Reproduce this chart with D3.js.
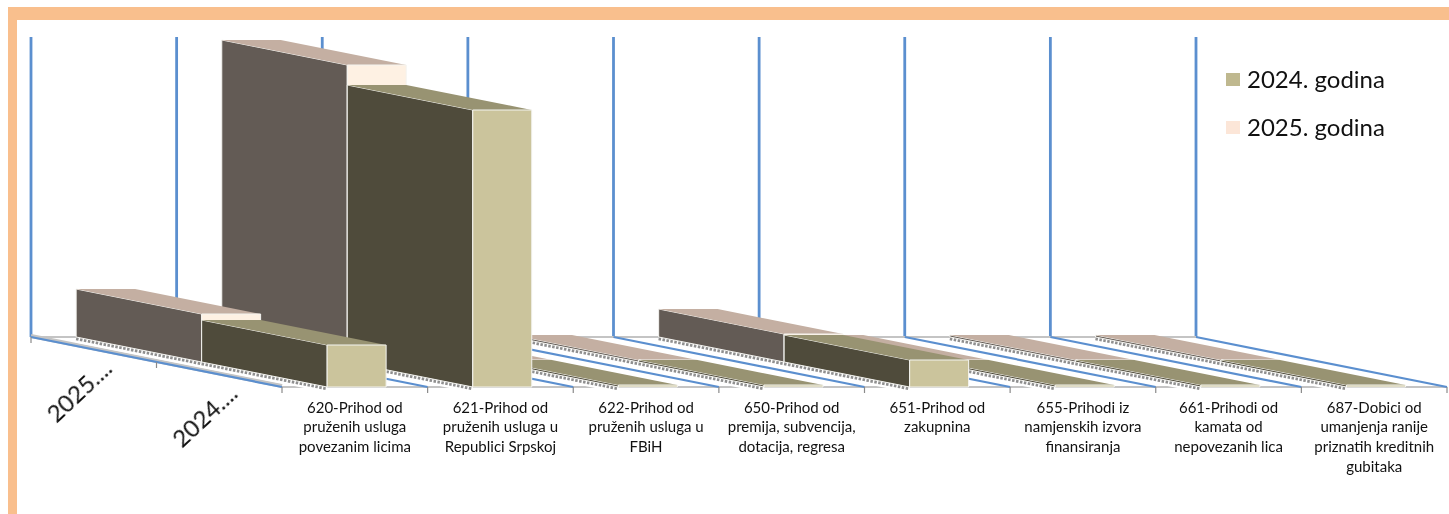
<!DOCTYPE html>
<html>
<head>
<meta charset="utf-8">
<script src="https://cdn.jsdelivr.net/npm/d3@7"></script>
<style>
	html, body { margin: 0; padding: 0; background: #fff; overflow: hidden; }
	text { font-family: Lato, "Open Sans", sans-serif; fill: #111; filter: blur(0.3px); }
</style>
</head>
<body>
<svg id="chart" width="1449" height="514"></svg>
<script>
const categories = [
	"620-Prihod od\npruženih usluga\npovezanim licima",
	"621-Prihod od\npruženih usluga u\nRepublici Srpskoj",
	"622-Prihod od\npruženih usluga u\nFBiH",
	"650-Prihod od\npremija, subvencija,\ndotacija, regresa",
	"651-Prihod od\nzakupnina",
	"655-Prihodi iz\nnamjenskih izvora\nfinansiranja",
	"661-Prihodi od\nkamata od\nnepovezanih lica",
	"687-Dobici od\numanjenja ranije\npriznatih kreditnih\ngubitaka"
]
const seriesNames = ["2025. godina", "2024. godina"]
const depthLabels = ["2025....", "2024...."]
const values2025 = [480, 2970, 20, 20, 280, 20, 20, 20]
const values2024 = [420, 2770, 20, 20, 270, 20, 20, 20]
const legendNames = ["2024. godina", "2025. godina"]

const seriesColors = {
	"2024. godina": { front: "#cbc49c", top: "#989372", side: "#4f4b3b", key: "#bfb88f" },
	"2025. godina": { front: "#fef1e3", top: "#c4afa2", side: "#635b55", key: "#fce6d8" }
}

const svg = d3.select("#chart")

// frame of the slide, only top and left
svg.append("rect").attr("x", 8).attr("y", 7).attr("width", 1441).attr("height", 13).attr("fill", "#f9bf8d")
svg.append("rect").attr("x", 8).attr("y", 7).attr("width", 9).attr("height", 507).attr("fill", "#f9bf8d")

// scales, back wall of the chart
const x = d3.scaleBand().domain(categories).range([31, 1196])
const y = d3.scaleLinear().domain([0, 3000]).range([337, 37])
const depth = d3.scaleBand().domain(seriesNames).range([0, 1])
const barSlot = d3.scaleLinear().domain([0, 1]).range([0.31, 0.715])

// oblique projection, z goes from back (0) to front (1)
const depthDx = 251
const depthDy = 50
function px(xWall, z){ return xWall + depthDx * z }
function py(v, z){ return y(v) + depthDy * z }

const marks = svg.append("g").style("filter", "blur(0.5px)")

const edges = x.domain().map(d => x(d)).concat([x.range()[1]])

// wall lines
marks.selectAll(".wall").data(edges).join("line")
	.attr("class", "wall")
	.attr("x1", d => d).attr("x2", d => d)
	.attr("y1", y.range()[1]).attr("y2", y(0))
	.attr("stroke", "#5b8fcf").attr("stroke-width", 2.8)

// floor edges
marks.append("line")
	.attr("x1", edges[0]).attr("x2", edges[8])
	.attr("y1", y(0)).attr("y2", y(0))
	.attr("stroke", "#c4c4c4").attr("stroke-width", 2)
marks.append("line")
	.attr("x1", px(edges[0], 1)).attr("x2", px(edges[8], 1))
	.attr("y1", py(0, 1)).attr("y2", py(0, 1))
	.attr("stroke", "#c4c4c4").attr("stroke-width", 2)
marks.append("line")
	.attr("x1", edges[0]).attr("x2", px(edges[0], 1))
	.attr("y1", y(0) - 1).attr("y2", py(0, 1) - 1)
	.attr("stroke", "#c4c4c4").attr("stroke-width", 4)

// floor lines
marks.selectAll(".floor").data(edges).join("line")
	.attr("class", "floor")
	.attr("x1", d => d).attr("x2", d => px(d, 1))
	.attr("y1", y(0)).attr("y2", py(0, 1))
	.attr("stroke", "#5b8fcf").attr("stroke-width", 2.2)

// ticks along the front and the side
marks.selectAll(".tick-front").data(edges).join("line")
	.attr("class", "tick-front")
	.attr("x1", d => px(d, 1)).attr("x2", d => px(d, 1))
	.attr("y1", py(0, 1)).attr("y2", py(0, 1) + 6)
	.attr("stroke", "#8a8a8a").attr("stroke-width", 1.2)
marks.selectAll(".tick-side").data([0, 0.5]).join("line")
	.attr("class", "tick-side")
	.attr("x1", d => px(edges[0], d)).attr("x2", d => px(edges[0], d))
	.attr("y1", d => py(0, d)).attr("y2", d => py(0, d) + 6)
	.attr("stroke", "#8a8a8a").attr("stroke-width", 1.2)

// one 3d bar: hatch on the floor, then side, top and front
function drawBar(parent, cat, name, value){
	const color = seriesColors[name]
	const z0 = depth(name)
	const z1 = z0 + depth.bandwidth()
	const x0 = x(cat) + barSlot(0) * x.bandwidth()
	const x1 = x(cat) + barSlot(1) * x.bandwidth()
	const g = parent.append("g")

	const poly = pts => pts.map(p => p.join(",")).join(" ")

	// white halo and grey hatch along the foot of the bar
	g.append("line")
		.attr("x1", px(x0, z0)).attr("y1", py(0, z0) + 1.5)
		.attr("x2", px(x0, z1)).attr("y2", py(0, z1) + 1.5)
		.attr("stroke", "#fff").attr("stroke-width", 8)
	g.append("line")
		.attr("x1", px(x0, z0)).attr("y1", py(0, z0) + 1.5)
		.attr("x2", px(x0, z1)).attr("y2", py(0, z1) + 1.5)
		.attr("stroke", "#8f8f8f").attr("stroke-width", 3.5).attr("stroke-dasharray", "2.5 1.5")

	g.append("polygon")
		.attr("points", poly([[px(x0, z0), py(0, z0)], [px(x0, z1), py(0, z1)], [px(x0, z1), py(value, z1)], [px(x0, z0), py(value, z0)]]))
		.attr("fill", color.side).attr("stroke", "#f4f4f0").attr("stroke-width", 1)
	g.append("polygon")
		.attr("points", poly([[px(x0, z0), py(value, z0)], [px(x0, z1), py(value, z1)], [px(x1, z1), py(value, z1)], [px(x1, z0), py(value, z0)]]))
		.attr("fill", color.top)
	g.append("polygon")
		.attr("points", poly([[px(x0, z1), py(0, z1)], [px(x1, z1), py(0, z1)], [px(x1, z1), py(value, z1)], [px(x0, z1), py(value, z1)]]))
		.attr("fill", color.front).attr("stroke", "#f4f4f0").attr("stroke-width", 1)
}

// left categories sit in front of the right ones, so draw from the right
const barLayer = marks.append("g")
d3.range(categories.length - 1, -1, -1).forEach(function (i){
	drawBar(barLayer, categories[i], "2025. godina", values2025[i])
	drawBar(barLayer, categories[i], "2024. godina", values2024[i])
})

// category labels on the front edge
const frontX = d3.scaleBand().domain(categories).range([px(31, 1), px(1196, 1)])
const catAxis = svg.append("g")
	.attr("class", "cat-label")
	.attr("transform", "translate(0," + py(0, 1) + ")")
	.call(d3.axisBottom(frontX).tickSize(0).tickPadding(0))
catAxis.select(".domain").remove()
catAxis.selectAll("text").each(function (d){
	const label = d3.select(this).text("").attr("y", 25).attr("dy", 0).style("font-size", "15px")
	d.split("\n").forEach(function (line, i){
		label.append("tspan").attr("x", 0).attr("y", 25.5 + i * 19.8).text(line)
	})
})

// series labels on the side edge
svg.selectAll(".depth-label").data(depthLabels).join("text")
	.attr("class", "depth-label")
	.attr("text-anchor", "end")
	.attr("font-size", 24)
	.attr("transform", (d, i) => "translate(" + (px(31, depth.bandwidth() * (i + 0.5)) + 20) + "," + (py(0, depth.bandwidth() * (i + 0.5)) + 21) + ") rotate(-43)")
	.text(d => d)

// legend
const legend = svg.selectAll(".legend").data(legendNames).join("g")
	.attr("class", "legend")
	.attr("transform", (d, i) => "translate(1226," + (73 + i * 48) + ")")
legend.append("rect")
	.attr("width", 14).attr("height", 13)
	.attr("fill", d => seriesColors[d].key)
legend.append("text")
	.attr("x", 21).attr("y", 15)
	.attr("font-size", 24)
	.text(d => d)
</script>
</body>
</html>
